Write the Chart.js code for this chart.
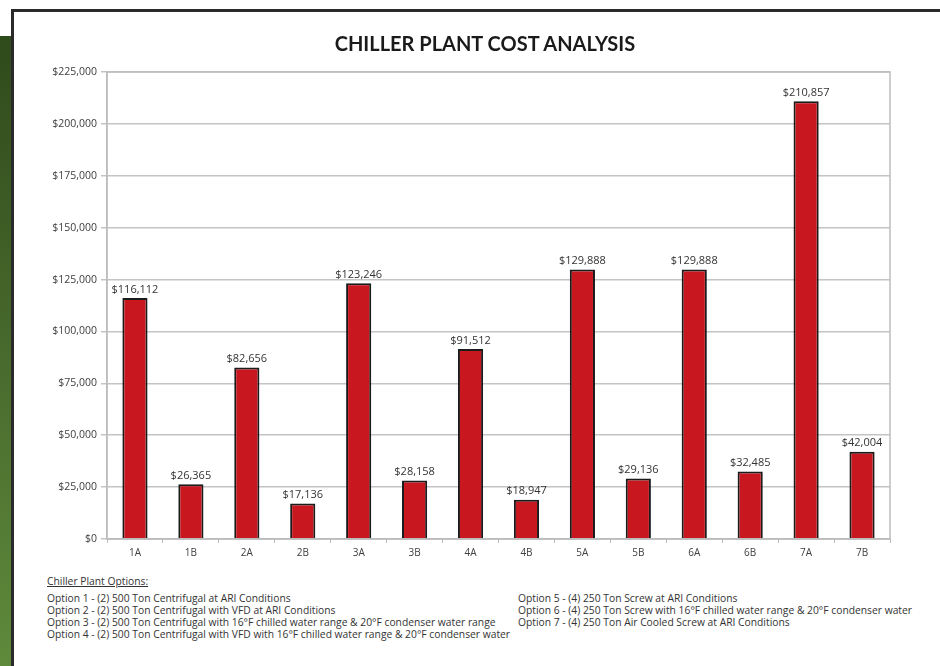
<!DOCTYPE html>
<html>
<head>
<meta charset="utf-8">
<script src="https://cdn.jsdelivr.net/npm/chart.js@4/dist/chart.umd.min.js"></script>
<style>
  html, body { margin: 0; padding: 0; background: #fff; }
  #page { position: relative; width: 940px; height: 666px; overflow: hidden; background: #fff; }
  #green { position: absolute; left: 0; top: 36px; width: 12px; height: 630px;
    background: linear-gradient(#2f4a1b, #4d7030 60%, #5f8a3b); }
  #frame { position: absolute; left: 11px; top: 9px; width: 940px; height: 700px;
    border-top: 3px solid #2a2a2a; border-left: 3px solid #2a2a2a; }
  #title { position: absolute; left: 285px; top: 30px; width: 400px; text-align: center;
    font-family: Lato, sans-serif; font-weight: bold; font-size: 20px; line-height: 26px; color: #1a1a1a; }
  #wrap { position: absolute; left: 30px; top: 12px; width: 910px; height: 560px; }
  #notes { position: absolute; left: 47px; top: 575px; width: 880px;
    font-family: "Open Sans", sans-serif; font-size: 10.3px; color: #333; line-height: 12px; }
  #notes .head { text-decoration: underline; margin-bottom: 5px; }
  #notes .col { position: absolute; top: 17px; white-space: nowrap; }
</style>
</head>
<body>
<div id="page">
  <div id="green"></div>
  <div id="frame"></div>
  <div id="wrap"><canvas id="chart"></canvas></div>
  <div id="title"></div>
  <div id="notes">
    <div class="head">Chiller Plant Options:</div>
    <div class="col" id="colLeft" style="left:0"></div>
    <div class="col" id="colRight" style="left:471px"></div>
  </div>
</div>
<script>
const chartTitle = "CHILLER PLANT COST ANALYSIS";
const categories = ["1A", "1B", "2A", "2B", "3A", "3B", "4A", "4B", "5A", "5B", "6A", "6B", "7A", "7B"];
const costs = [116112, 26365, 82656, 17136, 123246, 28158, 91512, 18947, 129888, 29136, 129888, 32485, 210857, 42004];
const Y_MAX = 225000;
const Y_STEP = 25000;

const optionsLeft = [
  "Option 1 - (2) 500 Ton Centrifugal at ARI Conditions",
  "Option 2 - (2) 500 Ton Centrifugal with VFD at ARI Conditions",
  "Option 3 - (2) 500 Ton Centrifugal with 16°F chilled water range & 20°F condenser water range",
  "Option 4 - (2) 500 Ton Centrifugal with VFD with 16°F chilled water range & 20°F condenser water",
];
const optionsRight = [
  "Option 5 - (4) 250 Ton Screw at ARI Conditions",
  "Option 6 - (4) 250 Ton Screw with 16°F chilled water range & 20°F condenser water",
  "Option 7 - (4) 250 Ton Air Cooled Screw at ARI Conditions",
];

document.getElementById("title").textContent = chartTitle;
document.getElementById("colLeft").innerHTML = optionsLeft.map((t) => `<div>${t}</div>`).join("");
document.getElementById("colRight").innerHTML = optionsRight.map((t) => `<div>${t}</div>`).join("");

const money = (v) => "$" + v.toLocaleString("en-US");

// value labels above each bar + grey border round the plot area
const barLabels = {
  id: "barLabels",
  afterDatasetsDraw(chart) {
    const { ctx, chartArea } = chart;
    ctx.save();
    ctx.strokeStyle = "#bdbdbd";
    ctx.lineWidth = 1.5;
    ctx.strokeRect(chartArea.left, chartArea.top, chartArea.right - chartArea.left, chartArea.bottom - chartArea.top);
    ctx.font = '11px "Open Sans", sans-serif';
    ctx.fillStyle = "#333";
    ctx.textAlign = "center";
    ctx.textBaseline = "bottom";
    chart.getDatasetMeta(0).data.forEach((bar, i) => {
      ctx.fillText(money(costs[i]), bar.x, bar.y - 3);
    });
    ctx.restore();
  },
};

new Chart(document.getElementById("chart"), {
  type: "bar",
  data: {
    labels: categories,
    datasets: [
      {
        data: costs,
        backgroundColor: "#c8171f",
        borderColor: "#1b1b1b",
        borderWidth: 2,
        categoryPercentage: 1,
        barPercentage: 0.45,
      },
    ],
  },
  options: {
    responsive: true,
    maintainAspectRatio: false,
    animation: false,
    layout: { padding: { left: 0, right: 50, top: 60, bottom: 0 } },
    plugins: {
      legend: { display: false },
      tooltip: { enabled: false },
      title: { display: false },
    },
    scales: {
      x: {
        offset: true,
        grid: { display: true, offset: true, drawOnChartArea: false, tickLength: 4, color: "#bdbdbd" },
        border: { color: "#bdbdbd", width: 1.5 },
        ticks: { color: "#404040", font: { family: "Open Sans", size: 10 }, padding: 4 },
        afterFit(scale) { scale.height = 33; },
      },
      y: {
        min: 0,
        max: Y_MAX,
        grid: { color: "#c4c4c4", lineWidth: 1.5, tickLength: 6 },
        border: { color: "#bdbdbd", width: 1.5 },
        ticks: {
          stepSize: Y_STEP,
          color: "#404040",
          font: { family: "Open Sans", size: 10.5 },
          padding: 4,
          callback: (v) => money(v),
        },
        afterFit(scale) { scale.width = 77; },
      },
    },
  },
  plugins: [barLabels],
});
</script>
</body>
</html>
